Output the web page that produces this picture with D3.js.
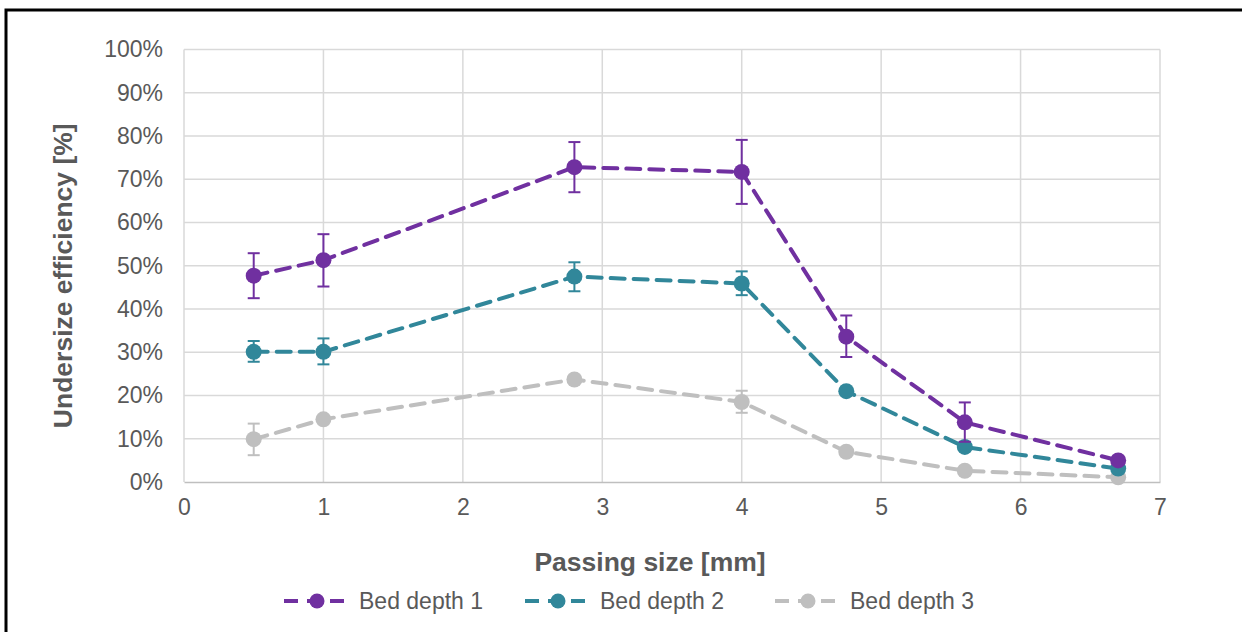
<!DOCTYPE html>
<html>
<head>
<meta charset="utf-8">
<script src="https://cdn.jsdelivr.net/npm/d3@7"></script>
<style>
  html, body { margin: 0; padding: 0; background: #fff; }
  svg { display: block; font-family: "Liberation Sans", Arial, sans-serif; }
</style>
</head>
<body>
<svg id="chart" width="1242" height="632"></svg>
<script>
// Passing sizes [mm]
const sizes = [0.5, 1, 2.8, 4, 4.75, 5.6, 6.7];

// Undersize efficiency [%] per bed depth
const bed1 = [47.7, 51.3, 72.8, 71.7, 33.6, 13.8, 5.0];
const bed2 = [30.1, 30.1, 47.5, 45.9, 21.0, 8.1, 3.1];
const bed3 = [9.9, 14.5, 23.7, 18.5, 7.0, 2.6, 1.1];

// Error bar low/high bounds [%] (null = no bar)
const bed1Low  = [42.5, 45.2, 67.0, 64.3, 28.9, 9.3, null];
const bed1High = [52.9, 57.3, 78.6, 79.1, 38.5, 18.4, null];
const bed2Low  = [27.8, 27.2, 44.1, 43.2, null, null, null];
const bed2High = [32.6, 33.2, 50.8, 48.7, null, null, null];
const bed3Low  = [6.2, null, null, 16.0, null, null, null];
const bed3High = [13.5, null, null, 21.1, null, null, null];

const seriesNames = ["Bed depth 1", "Bed depth 2", "Bed depth 3"];
const seriesColors = ["#7030a0", "#31879a", "#bfbfbf"];

const xTicks = [0, 1, 2, 3, 4, 5, 6, 7];
const yTicks = [0, 10, 20, 30, 40, 50, 60, 70, 80, 90, 100];

const series = [
  { name: seriesNames[0], color: seriesColors[0], values: bed1, low: bed1Low, high: bed1High },
  { name: seriesNames[1], color: seriesColors[1], values: bed2, low: bed2Low, high: bed2High },
  { name: seriesNames[2], color: seriesColors[2], values: bed3, low: bed3Low, high: bed3High }
];

const svg = d3.select("#chart");

// Outer frame
svg.append("rect")
  .attr("x", 6).attr("y", 10)
  .attr("width", 1260).attr("height", 640)
  .attr("fill", "none").attr("stroke", "#000").attr("stroke-width", 3);

const plot = { left: 184, right: 1160, top: 49.5, bottom: 482 };

const x = d3.scaleLinear().domain([0, 7]).range([plot.left, plot.right]);
const y = d3.scaleLinear().domain([0, 100]).range([plot.bottom, plot.top]);

// Gridlines
const grid = svg.append("g");
grid.selectAll("line.h").data(yTicks.filter(d => d > 0)).join("line")
  .attr("x1", plot.left).attr("x2", plot.right)
  .attr("y1", d => y(d)).attr("y2", d => y(d))
  .attr("stroke", "#d9d9d9").attr("stroke-width", 1.5);
grid.selectAll("line.v").data(xTicks).join("line")
  .attr("y1", plot.top).attr("y2", plot.bottom)
  .attr("x1", d => x(d)).attr("x2", d => x(d))
  .attr("stroke", "#d9d9d9").attr("stroke-width", 1.5);

// Axes
const yAxis = svg.append("g")
  .attr("transform", `translate(${plot.left},0)`)
  .call(d3.axisLeft(y).tickValues(yTicks).tickFormat(d => d + "%").tickSize(0).tickPadding(21));
yAxis.select(".domain").remove();
yAxis.selectAll("text").attr("fill", "#595959").style("font-size", "23px");

const xAxis = svg.append("g")
  .attr("transform", `translate(0,${plot.bottom})`)
  .call(d3.axisBottom(x).tickValues(xTicks).tickFormat(d3.format("d")).tickSize(0).tickPadding(17));
xAxis.select(".domain").attr("stroke", "#bfbfbf").attr("stroke-width", 1.5);
xAxis.selectAll("text").attr("fill", "#595959").style("font-size", "23px");

// Axis titles
svg.append("text")
  .attr("x", 650).attr("y", 571)
  .attr("text-anchor", "middle")
  .attr("fill", "#595959").style("font-size", "26.5px").style("font-weight", "bold")
  .text("Passing size [mm]");

svg.append("text")
  .attr("transform", `translate(72,${(plot.top + plot.bottom) / 2 + 10}) rotate(-90)`)
  .attr("text-anchor", "middle")
  .attr("fill", "#595959").style("font-size", "26.5px").style("font-weight", "bold")
  .text("Undersize efficiency [%]");

const line = d3.line().x((d, i) => x(sizes[i])).y(d => y(d));

// Draw series back to front so Bed depth 1 sits on top
[...series].reverse().forEach(s => {
  const g = svg.append("g");
  g.append("path")
    .attr("d", line(s.values))
    .attr("fill", "none").attr("stroke", s.color)
    .attr("stroke-width", 4).attr("stroke-dasharray", "14,9")
    .attr("stroke-linecap", "round");

  const bars = sizes.map((sz, i) => ({ sz, lo: s.low[i], hi: s.high[i] })).filter(d => d.lo != null);
  const eb = g.selectAll("g.eb").data(bars).join("g");
  eb.append("line")
    .attr("x1", d => x(d.sz)).attr("x2", d => x(d.sz))
    .attr("y1", d => y(d.lo)).attr("y2", d => y(d.hi))
    .attr("stroke", s.color).attr("stroke-width", 2);
  ["lo", "hi"].forEach(k => {
    eb.append("line")
      .attr("x1", d => x(d.sz) - 6).attr("x2", d => x(d.sz) + 6)
      .attr("y1", d => y(d[k])).attr("y2", d => y(d[k]))
      .attr("stroke", s.color).attr("stroke-width", 2);
  });

  g.selectAll("circle").data(s.values).join("circle")
    .attr("cx", (d, i) => x(sizes[i])).attr("cy", d => y(d))
    .attr("r", 8).attr("fill", s.color);
});

// Legend
const legendX = [282, 523, 773];
const legend = svg.append("g");
series.forEach((s, i) => {
  const lg = legend.append("g").attr("transform", `translate(${legendX[i]},601)`);
  lg.append("line").attr("x1", 0).attr("x2", 70).attr("y1", 0).attr("y2", 0)
    .attr("stroke", s.color).attr("stroke-width", 4).attr("stroke-dasharray", "14,9").attr("stroke-dashoffset", -2);
  lg.append("circle").attr("cx", 35).attr("cy", 0).attr("r", 7.5).attr("fill", s.color);
  lg.append("text").attr("x", 77).attr("y", 8)
    .attr("fill", "#595959").style("font-size", "23px").text(s.name);
});
</script>
</body>
</html>
